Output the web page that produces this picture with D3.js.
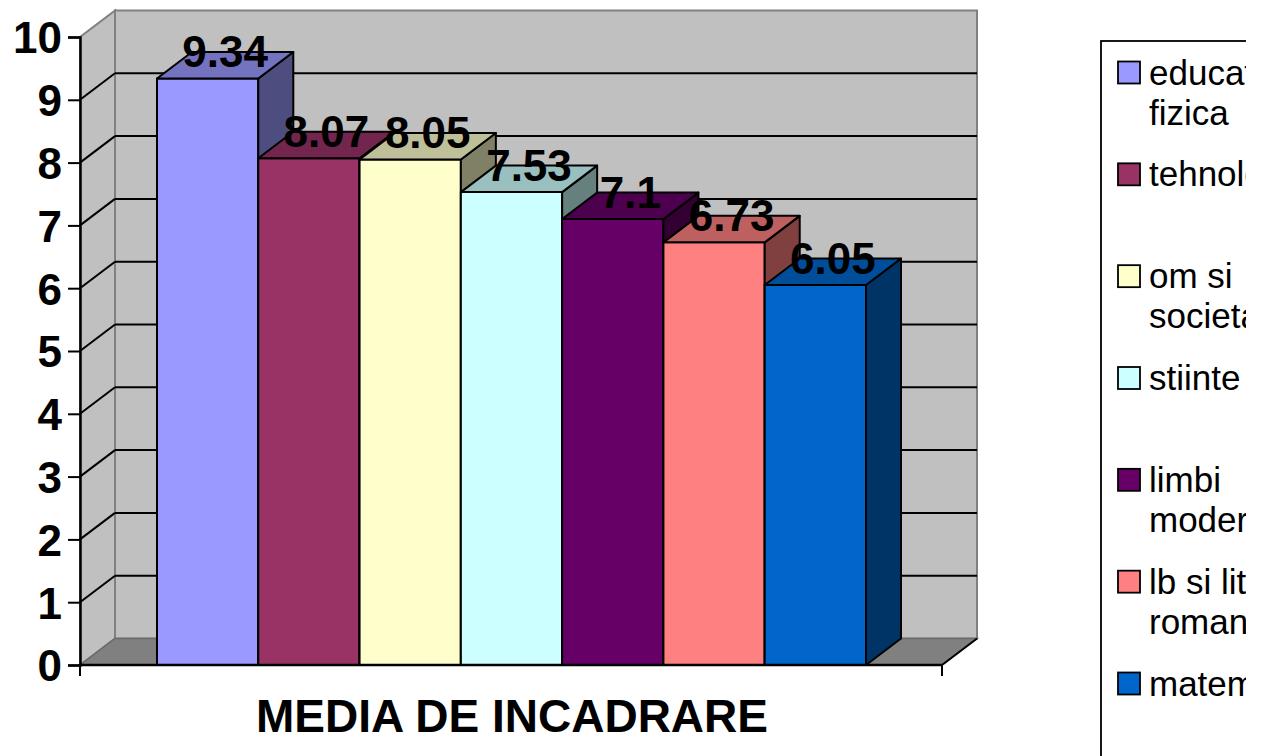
<!DOCTYPE html>
<html>
<head>
<meta charset="utf-8">
<script src="https://cdn.jsdelivr.net/npm/d3@7/dist/d3.min.js"></script>
<style>
  html, body { margin: 0; padding: 0; background: #fff; }
  svg { display: block; font-family: "Liberation Sans", Arial, sans-serif; }
</style>
</head>
<body>
<svg id="chart" width="1262" height="756"></svg>
<script>
// ---- data ----
const categoryTitle = "MEDIA DE INCADRARE";
const seriesNames = ["educatie fizica", "tehnologii", "om si societate", "stiinte", "limbi moderne", "lb si lit romana", "matematica"];
const legendLines = [["educatie", "fizica"], ["tehnologii"], ["om si", "societate"], ["stiinte"], ["limbi", "moderne"], ["lb si lit", "romana"], ["matematica"]];
const seriesValues = [9.34, 8.07, 8.05, 7.53, 7.1, 6.73, 6.05];
const valueLabels = ["9.34", "8.07", "8.05", "7.53", "7.1", "6.73", "6.05"];
const seriesColors = ["#9999FF", "#993366", "#FFFFCC", "#CCFFFF", "#660066", "#FF8080", "#0066CC"];
const yTicks = [0, 1, 2, 3, 4, 5, 6, 7, 8, 9, 10];

// ---- layout ----
const svg = d3.select("#chart");
const floorLeft = 80, floorRight = 942;
const depthX = 35, depthY = 26.5;
const y = d3.scaleLinear().domain([0, 10]).range([665, 37]);
const x = d3.scaleBand().domain(seriesNames).range([157, 866]).paddingInner(0).paddingOuter(0);

const shade = (c, k) => { const r = d3.rgb(c); return d3.rgb(r.r * k, r.g * k, r.b * k).formatHex(); };
const poly = pts => pts.map(p => p.join(",")).join(" ");

const y0 = y(0), y10 = y(10);

// back wall
svg.append("rect")
  .attr("x", floorLeft + depthX).attr("y", y10 - depthY)
  .attr("width", floorRight - floorLeft).attr("height", y0 - y10)
  .attr("fill", "#C0C0C0").attr("stroke", "#808080").attr("stroke-width", 2);

// side wall
svg.append("polygon")
  .attr("points", poly([[floorLeft, y0], [floorLeft, y10], [floorLeft + depthX, y10 - depthY], [floorLeft + depthX, y0 - depthY]]))
  .attr("fill", "#C0C0C0").attr("stroke", "#808080").attr("stroke-width", 2);

// floor
svg.append("polygon")
  .attr("points", poly([[floorLeft, y0], [floorLeft + depthX, y0 - depthY], [floorRight + depthX, y0 - depthY], [floorRight, y0]]))
  .attr("fill", "#808080").attr("stroke", "#6a6a6a").attr("stroke-width", 1.5);
svg.append("line")
  .attr("x1", floorRight).attr("y1", y0).attr("x2", floorRight + depthX).attr("y2", y0 - depthY)
  .attr("stroke", "#000").attr("stroke-width", 2);

// gridlines (back wall + side wall)
const grid = yTicks.filter(t => t > 0 && t < 10);
svg.append("g").selectAll("line.gb").data(grid).join("line")
  .attr("x1", floorLeft + depthX).attr("x2", floorRight + depthX)
  .attr("y1", d => y(d) - depthY).attr("y2", d => y(d) - depthY)
  .attr("stroke", "#000").attr("stroke-width", 2);
svg.append("g").selectAll("line.gs").data(grid).join("line")
  .attr("x1", floorLeft).attr("x2", floorLeft + depthX)
  .attr("y1", d => y(d)).attr("y2", d => y(d) - depthY)
  .attr("stroke", "#000").attr("stroke-width", 2);

// bars
const bars = svg.append("g");
seriesNames.forEach((name, i) => {
  const v = seriesValues[i];
  const x0 = x(name), x1 = x(name) + x.bandwidth();
  const yt = y(v);
  const g = bars.append("g");
  g.append("polygon")
    .attr("points", poly([[x0, y0], [x0, yt], [x1, yt], [x1, y0]]))
    .attr("fill", seriesColors[i]).attr("stroke", "#000").attr("stroke-width", 2).attr("stroke-linejoin", "round");
  g.append("polygon")
    .attr("points", poly([[x1, y0], [x1, yt], [x1 + depthX, yt - depthY], [x1 + depthX, y0 - depthY]]))
    .attr("fill", shade(seriesColors[i], 0.5)).attr("stroke", "#000").attr("stroke-width", 2).attr("stroke-linejoin", "round");
  g.append("polygon")
    .attr("points", poly([[x0, yt], [x0 + depthX, yt - depthY], [x1 + depthX, yt - depthY], [x1, yt]]))
    .attr("fill", shade(seriesColors[i], 0.75)).attr("stroke", "#000").attr("stroke-width", 2).attr("stroke-linejoin", "round");
});

// x axis line + ticks
svg.append("line").attr("x1", floorLeft).attr("x2", floorRight).attr("y1", y0).attr("y2", y0)
  .attr("stroke", "#000").attr("stroke-width", 2.5);
svg.append("g").selectAll("line").data([floorLeft, floorRight]).join("line")
  .attr("x1", d => d).attr("x2", d => d).attr("y1", y0).attr("y2", y0 + 11)
  .attr("stroke", "#000").attr("stroke-width", 2);

// y axis
const yAxis = svg.append("g").attr("transform", `translate(${floorLeft},0)`)
  .call(d3.axisLeft(y).tickValues(yTicks).tickSize(12).tickPadding(6).tickFormat(d3.format("d")));
yAxis.select(".domain").attr("stroke", "#000").attr("stroke-width", 2.5);
yAxis.selectAll(".tick line").attr("stroke", "#000").attr("stroke-width", 2);
yAxis.selectAll(".tick text")
  .attr("font-family", "'Liberation Sans', Arial, sans-serif")
  .attr("font-size", 44).attr("font-weight", "bold").attr("fill", "#000")
  .attr("dy", "0.36em");

// value labels
svg.append("g").selectAll("text").data(seriesNames).join("text")
  .attr("x", (d) => x(d) + x.bandwidth() / 2 + depthX / 2)
  .attr("y", (d, i) => y(seriesValues[i]) - 11)
  .attr("text-anchor", "middle")
  .attr("font-size", 44).attr("font-weight", "bold").attr("fill", "#000")
  .text((d, i) => valueLabels[i]);

// category title
svg.append("text")
  .attr("x", (floorLeft + floorRight) / 2 + 1).attr("y", 732)
  .attr("text-anchor", "middle").attr("font-size", 46).attr("font-weight", "bold").attr("fill", "#000")
  .text(categoryTitle);

// legend (clipped at right like reference)
svg.append("clipPath").attr("id", "legclip")
  .append("rect").attr("x", 1090).attr("y", 0).attr("width", 156).attr("height", 756);
const leg = svg.append("g").attr("clip-path", "url(#legclip)");
leg.append("rect").attr("x", 1101).attr("y", 41).attr("width", 300).attr("height", 800)
  .attr("fill", "#fff").attr("stroke", "#000").attr("stroke-width", 1.8);
const legY = d3.scaleLinear().domain([0, seriesNames.length - 1]).range([72.5, 683.5]);
seriesNames.forEach((name, i) => {
  const cy = legY(i);
  leg.append("rect").attr("x", 1118).attr("y", cy - 11).attr("width", 22).attr("height", 22)
    .attr("fill", seriesColors[i]).attr("stroke", "#000").attr("stroke-width", 1.8);
  const t = leg.append("text").attr("x", 1149).attr("y", cy + 12)
    .attr("font-size", 35).attr("fill", "#000");
  legendLines[i].forEach((line, j) => {
    t.append("tspan").attr("x", 1149).attr("dy", j === 0 ? 0 : 40).text(line);
  });
});
</script>
</body>
</html>
